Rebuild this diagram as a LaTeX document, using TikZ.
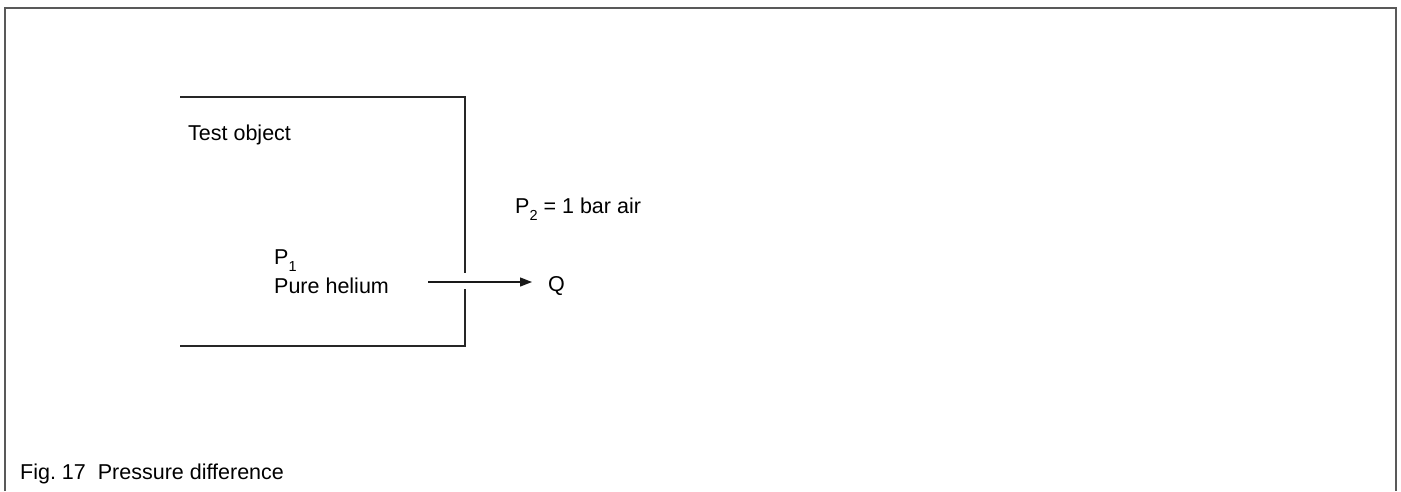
\documentclass[tikz,border=0pt]{standalone}
\usepackage{fontspec}
\setmainfont{Liberation Sans}
\usetikzlibrary{arrows.meta}
\newcommand{\lowsub}[1]{\raisebox{-7.5pt}{\fontsize{14.5}{15}\selectfont #1}}
\begin{document}
\begin{tikzpicture}[x=1pt,y=-1pt,
  txt/.style={inner sep=0pt, anchor=base west, font=\fontsize{21.5}{25}\selectfont},
  frame/.style={line width=2pt, draw=black!65},
  wall/.style={line width=1.3pt, draw=black!85},
  flow/.style={line width=1.3pt, draw=black!90, -{Triangle[length=12pt,width=9pt]}}]
\useasboundingbox (0,0) rectangle (1401,491);
% outer frame (open at the bottom)
\draw[frame] (5,491) -- (5,8) -- (1396,8) -- (1396,491);
% test object walls
\coordinate (wtl) at (180,97);
\coordinate (wtr) at (465,97);
\coordinate (wgu) at (465,273);
\coordinate (wgl) at (465,289);
\coordinate (wbr) at (465,346);
\coordinate (wbl) at (180,346);
\draw[wall] (wtl) -- (wtr) -- (wgu);
\draw[wall] (wgl) -- (wbr) -- (wbl);
% texts
\node[txt] (test) at (188,140) {Test object};
\node[txt] (p2) at (515,213) {P\lowsub{2} = 1 bar air};
\node[txt] (p1) at (274,264) {P\lowsub{1}};
\node[txt] (he) at (274,293) {Pure helium};
\node[txt] (Q) at (548,291) {Q};
\node[txt] (cap) at (20,479) {Fig.~17~~Pressure difference};
% leak flow
\coordinate (as) at (428,282);
\draw[flow] (as) -- ([xshift=-16pt]Q.west |- as);
\end{tikzpicture}
\end{document}
